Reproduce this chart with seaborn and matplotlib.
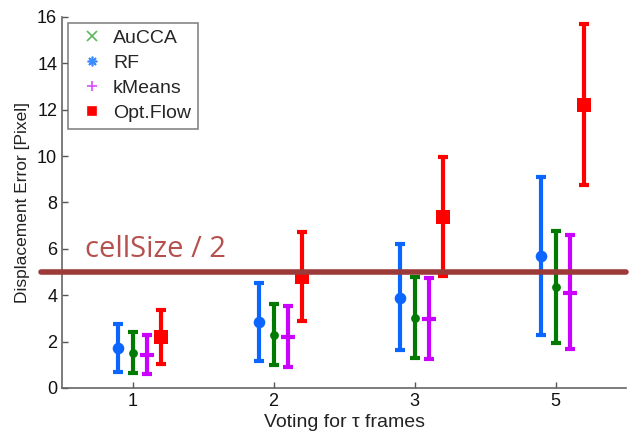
import numpy as np
import pandas as pd
import matplotlib
matplotlib.use("Agg")
import matplotlib.pyplot as plt
from matplotlib.lines import Line2D
import seaborn as sns

# Voting window lengths (categorical x axis)
frames = ["1", "2", "3", "5"]
methods = ["AuCCA", "RF", "kMeans", "Opt.Flow"]

# Mean displacement error and error-bar limits per method
aucca_mean = [1.51, 2.28, 3.02, 4.35]
aucca_low = [0.65, 0.99, 1.30, 1.93]
aucca_high = [2.41, 3.62, 4.78, 6.77]

rf_mean = [1.72, 2.84, 3.88, 5.69]
rf_low = [0.69, 1.16, 1.64, 2.30]
rf_high = [2.76, 4.53, 6.21, 9.10]

kmeans_mean = [1.42, 2.20, 2.97, 4.10]
kmeans_low = [0.60, 0.90, 1.24, 1.67]
kmeans_high = [2.28, 3.53, 4.74, 6.59]

flow_mean = [2.20, 4.78, 7.37, 12.20]
flow_low = [1.03, 2.89, 4.83, 8.75]
flow_high = [3.36, 6.72, 9.96, 15.69]

cell_half = 5.0

rows = []
series = {
    "AuCCA": (aucca_mean, aucca_low, aucca_high),
    "RF": (rf_mean, rf_low, rf_high),
    "kMeans": (kmeans_mean, kmeans_low, kmeans_high),
    "Opt.Flow": (flow_mean, flow_low, flow_high),
}
offsets = {"RF": -0.1, "AuCCA": 0.0, "kMeans": 0.1, "Opt.Flow": 0.2}
for m in methods:
    mean, low, high = series[m]
    for i, f in enumerate(frames):
        rows.append(dict(method=m, frame=f, x=i + 1 + offsets[m],
                         mean=mean[i], low=low[i], high=high[i]))
df = pd.DataFrame(rows)

sns.set_theme(style="white")
plt.rcParams["font.family"] = ["Liberation Sans", "DejaVu Sans"]

plot_colors = {"AuCCA": "#007a00", "RF": "#0a66ff", "kMeans": "#cc00ff", "Opt.Flow": "#ff0000"}
legend_colors = {"AuCCA": "#5cb85c", "RF": "#3b8cff", "kMeans": "#d94cff", "Opt.Flow": "#ff0000"}
plot_markers = {"AuCCA": "o", "RF": "o", "kMeans": "_", "Opt.Flow": "s"}
plot_sizes = {"AuCCA": 40, "RF": 70, "kMeans": 100, "Opt.Flow": 95}
legend_markers = {"AuCCA": "x", "RF": (8, 2, 0), "kMeans": "+", "Opt.Flow": "s"}

fig = plt.figure(figsize=(6.33, 4.34), dpi=100)
ax = fig.add_axes([0.098, 0.106, 0.891, 0.855])

# Error bars
for m in methods:
    sub = df[df.method == m]
    yerr = np.vstack([sub["mean"] - sub["low"], sub["high"] - sub["mean"]])
    ax.errorbar(sub["x"], sub["mean"], yerr=yerr, fmt="none",
                ecolor=plot_colors[m], elinewidth=3, capsize=3.5, capthick=3, zorder=3)

# Mean markers
for m in methods:
    sub = df[df.method == m]
    sns.scatterplot(data=sub, x="x", y="mean", ax=ax, color=plot_colors[m],
                    marker=plot_markers[m], s=plot_sizes[m],
                    linewidth=3 if m == "kMeans" else 0,
                    edgecolor=plot_colors[m], zorder=4, legend=False)

# Half cell-size threshold
ax.axhline(cell_half, xmin=-0.038, xmax=1.0, color="#9b3a38", lw=4, clip_on=False, zorder=5)
ax.text(0.66, cell_half + 0.65, "cellSize / 2", color="#b5504c", fontsize=21,
        family=["Open Sans", "DejaVu Sans"], va="baseline", ha="left", zorder=6)

ax.set_xlim(0.5, 4.5)
ax.set_ylim(0, 16)
ax.set_xticks(range(1, len(frames) + 1))
ax.set_xticklabels(frames)
ax.set_yticks(np.arange(0, 17, 2))
ax.set_xlabel("Voting for \u03c4 frames", fontsize=14, color="#222222", labelpad=3)
ax.set_ylabel("Displacement Error [Pixel]", fontsize=12.5, color="#222222", labelpad=5)
ax.tick_params(direction="in", length=4, width=1, colors="#555555",
               labelcolor="#111111", labelsize=13, left=True, bottom=True)
for side in ["top", "right"]:
    ax.spines[side].set_visible(False)
for side in ["left", "bottom"]:
    ax.spines[side].set_color("#666666")
    ax.spines[side].set_linewidth(1.2)

handles = []
for m in methods:
    mk = legend_markers[m]
    handles.append(Line2D([], [], linestyle="none", marker=mk, color=legend_colors[m],
                          markersize=7 if mk != "s" else 6, markeredgewidth=1.2))
leg = ax.legend(handles, methods, loc="upper left", bbox_to_anchor=(0.011, 0.984),
                fontsize=14, frameon=True, fancybox=False, handletextpad=0.25,
                borderpad=0.35, borderaxespad=0, labelspacing=0.38, handlelength=1.7)
leg.get_frame().set_edgecolor("#666666")
leg.get_frame().set_linewidth(1.2)

fig.savefig("out.png", dpi=100)
